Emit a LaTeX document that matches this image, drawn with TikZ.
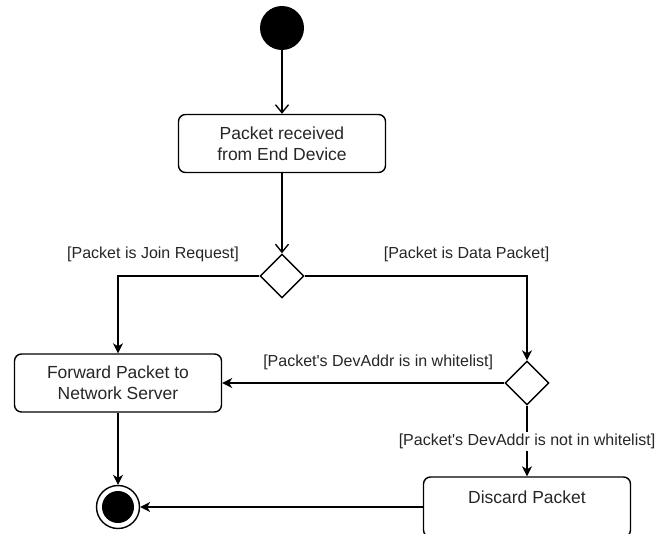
\documentclass[tikz,border=0pt]{standalone}
\usepackage{fontspec}
\setmainfont{Liberation Sans}
\usetikzlibrary{shapes.geometric,arrows.meta}
\begin{document}
\begin{tikzpicture}[x=1pt, y=-1pt, every node/.style={align=center, text=black!85}]
\tikzset{
  actbox/.style={draw, rounded corners=7pt, line width=1.4pt, minimum width=207pt, minimum height=58pt, font=\fontsize{17.5}{21}\selectfont},
  decision/.style={draw, diamond, line width=1.4pt, minimum width=44pt, minimum height=44pt, inner sep=0pt},
  startdot/.style={circle, fill=black, minimum size=44pt, inner sep=0pt},
  enddot/.style={circle, draw, line width=1.4pt, minimum size=43pt, inner sep=0pt, path picture={\fill[black] (path picture bounding box.center) circle[radius=16pt];}},
  guard/.style={font=\fontsize{16}{19}\selectfont, inner sep=2pt},
  flow/.style={-{Stealth[length=10pt, width=10pt, inset=3pt]}, line width=1.4pt},
  openflow/.style={-{Straight Barb[length=8pt, width=13pt]}, line width=1.4pt}
}
\useasboundingbox (0,0) rectangle (656,533);
\node[startdot] (start) at (282,28) {};
\node[actbox] (recv) at (282,143.5) {Packet received\\from End Device};
\node[decision] (dec1) at (282,276) {};
\node[actbox] (fwd) at (118,383) {Forward Packet to\\Network Server};
\node[decision] (dec2) at (527,383) {};
\node[actbox, minimum height=0pt, inner ysep=8pt, text height=18.3pt, text depth=25.7pt] (discard) at (527,507) {Discard Packet};
\node[enddot] (endst) at (118,507) {};

\draw[openflow] (start) -- (recv);
\draw[openflow] (recv) -- (dec1);

\draw[flow] (dec1.west) -| node[guard, pos=0.376, yshift=22pt] {[Packet is Join Request]} (fwd.north);
\draw[flow] (dec1.east) -| node[guard, pos=0.364, yshift=22pt] {[Packet is Data Packet]} (dec2.north);

\draw[flow] (dec2.west) -- node[guard, pos=0.447, yshift=21pt] {[Packet\textquotesingle s DevAddr is in whitelist]} (fwd.east);
\draw[flow] (dec2.south) -- node[guard, fill=white, pos=0.507] {[Packet\textquotesingle s DevAddr is not in whitelist]} (discard.north);

\draw[flow] (fwd) -- (endst);
\draw[flow] (discard.west |- endst) -- (endst);
\end{tikzpicture}
\end{document}
